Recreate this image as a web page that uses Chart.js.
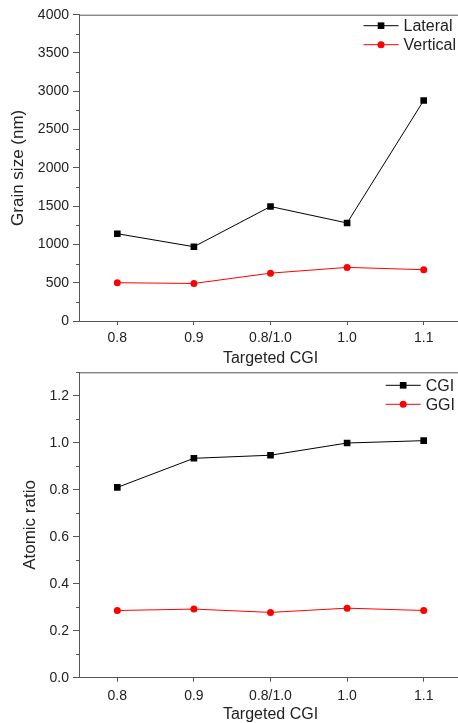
<!DOCTYPE html>
<html>
<head>
<meta charset="utf-8">
<script src="https://cdn.jsdelivr.net/npm/chart.js@4.4.0/dist/chart.umd.min.js"></script>
<style>
  html, body { margin: 0; padding: 0; background: #fff; overflow: hidden; width: 458px; height: 723px; }
  canvas { position: absolute; left: 0; }
  #grainChart { top: 0; }
  #ratioChart { top: 358px; }
</style>
</head>
<body>
<canvas id="grainChart" width="462" height="368"></canvas>
<canvas id="ratioChart" width="462" height="365"></canvas>
<script>
// Categories (targeted CGI) shared by both panels
const categories = ["0.8", "0.9", "0.8/1.0", "1.0", "1.1"];

// Top panel: grain size (nm)
const lateralSize = [1140, 970, 1495, 1280, 2880];
const verticalSize = [500, 490, 625, 700, 670];

// Bottom panel: atomic ratio
const cgiRatio = [0.81, 0.934, 0.947, 0.999, 1.009];
const ggiRatio = [0.286, 0.292, 0.278, 0.296, 0.286];

// Axis ranges / tick steps
const grainAxis = { min: 0, max: 4000, major: 500, minor: 250 };
const ratioAxis = { min: 0, max: 1.3, major: 0.2, minor: 0.1 };

const FONT = '"Liberation Sans", Arial, sans-serif';
const TEXT = "#222";
const AXIS = "#555";

// Legend drawn like Origin: line segment with marker, then label
const lineLegend = {
  id: "lineLegend",
  afterDraw(chart, args, opts) {
    const { ctx, chartArea } = chart;
    ctx.save();
    ctx.font = "16px " + FONT;
    const widths = chart.data.datasets.map((d) => ctx.measureText(d.label).width);
    const textX = chartArea.right - opts.right - Math.max(...widths);
    chart.data.datasets.forEach((ds, i) => {
      const y = chartArea.top + opts.top + i * opts.row;
      ctx.strokeStyle = ds.borderColor;
      ctx.lineWidth = 1;
      ctx.beginPath();
      ctx.moveTo(textX - 40, y);
      ctx.lineTo(textX - 5, y);
      ctx.stroke();
      ctx.fillStyle = ds.pointBackgroundColor;
      Chart.helpers.drawPoint(ctx, { pointStyle: ds.pointStyle, radius: ds.pointRadius, borderWidth: 0, rotation: 0 }, textX - 22.5, y);
      ctx.fillStyle = TEXT;
      ctx.textBaseline = "middle";
      ctx.textAlign = "left";
      ctx.fillText(ds.label, textX, y + 1);
    });
    ctx.restore();
  },
};

// Top frame line of the plot box and the short minor ticks on the y axis
const boxFrame = {
  id: "boxFrame",
  afterDraw(chart, args, opts) {
    const { ctx, chartArea } = chart;
    const y = chart.scales.y;
    ctx.save();
    ctx.strokeStyle = AXIS;
    ctx.lineWidth = 1;
    ctx.beginPath();
    ctx.moveTo(chartArea.left, chartArea.top + 0.5);
    ctx.lineTo(chartArea.right, chartArea.top + 0.5);
    const n = Math.round((opts.max - opts.min) / opts.minor);
    for (let i = 0; i <= n; i++) {
      const v = opts.min + i * opts.minor;
      const r = v / opts.major;
      if (Math.abs(r - Math.round(r)) < 1e-6) continue;
      const py = Math.round(y.getPixelForValue(v)) + 0.5;
      ctx.moveTo(chartArea.left - 3, py);
      ctx.lineTo(chartArea.left, py);
    }
    ctx.stroke();
    ctx.restore();
  },
};

function makeDataset(label, data, color, style, radius) {
  return {
    label: label,
    data: data,
    borderColor: color,
    backgroundColor: color,
    pointBackgroundColor: color,
    pointBorderWidth: 0,
    pointStyle: style,
    pointRadius: radius,
    borderWidth: 1,
    tension: 0,
  };
}

function makeChart(id, datasets, axis, yTitle, opt) {
  const ctx = document.getElementById(id).getContext("2d");
  return new Chart(ctx, {
    type: "line",
    data: { labels: categories, datasets: datasets },
    plugins: [lineLegend, boxFrame],
    options: {
      responsive: false,
      animation: false,
      layout: { autoPadding: false, padding: { top: opt.padTop, right: 0, left: 0, bottom: 0 } },
      plugins: {
        legend: { display: false },
        tooltip: { enabled: false },
        lineLegend: opt.legend,
        boxFrame: axis,
      },
      scales: {
        x: {
          type: "category",
          offset: true,
          grid: { drawOnChartArea: false, offset: false, tickLength: 4, color: AXIS },
          border: { color: AXIS, width: 1 },
          ticks: { color: TEXT, font: { size: 14, family: FONT }, padding: opt.xTickPad, maxRotation: 0, autoSkip: false },
          title: {
            display: true,
            text: "Targeted CGI",
            color: TEXT,
            font: { size: 16, family: FONT, lineHeight: opt.xTitleLH },
            padding: { top: 0, bottom: 0 },
          },
          afterFit: (s) => { s.height = opt.xHeight; },
        },
        y: {
          min: axis.min,
          max: axis.max,
          grid: { drawOnChartArea: false, tickLength: 6, color: AXIS },
          border: { color: AXIS, width: 1 },
          ticks: {
            stepSize: axis.major,
            includeBounds: false,
            color: TEXT,
            font: { size: 14, family: FONT },
            padding: 4,
            callback: (v) => v.toFixed(opt.decimals),
          },
          title: { display: true, text: yTitle, color: TEXT, font: { size: 17, family: FONT }, padding: { top: opt.yTitlePad, bottom: 0 } },
          afterFit: (s) => { s.width = 79; },
        },
      },
    },
  });
}

makeChart(
  "grainChart",
  [
    makeDataset("Lateral", lateralSize, "#000000", "rect", 4.7),
    makeDataset("Vertical", verticalSize, "#ff0000", "circle", 3.5),
  ],
  grainAxis,
  "Grain size (nm)",
  { padTop: 14.7, xHeight: 47, xTickPad: 5, xTitleLH: 1.2, yTitlePad: 8, decimals: 0, legend: { right: 6, top: 11, row: 19 } }
);

makeChart(
  "ratioChart",
  [
    makeDataset("CGI", cgiRatio, "#000000", "rect", 4.7),
    makeDataset("GGI", ggiRatio, "#ff0000", "circle", 3.5),
  ],
  ratioAxis,
  "Atomic ratio",
  { padTop: 14.3, xHeight: 45.3, xTickPad: 6, xTitleLH: 1.0, yTitlePad: 20, decimals: 1, legend: { right: 7, top: 13, row: 19 } }
);
</script>
</body>
</html>
